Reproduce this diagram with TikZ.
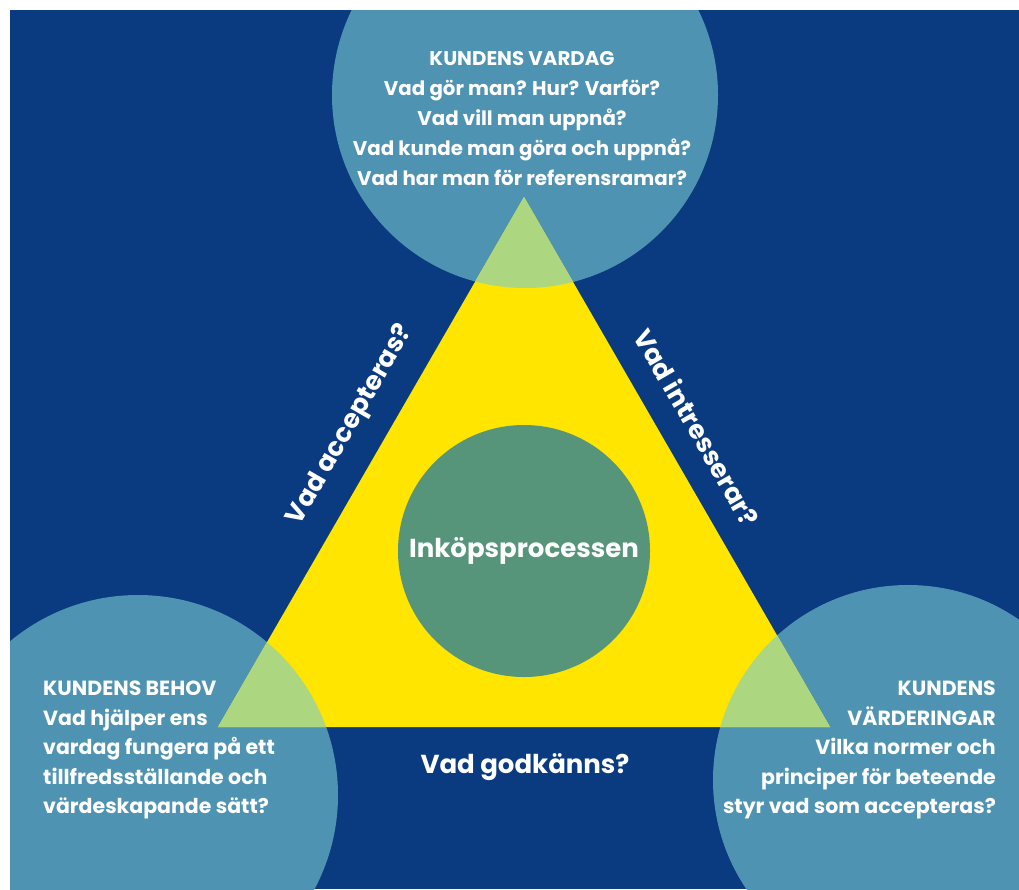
\documentclass[tikz,border=0pt]{standalone}
\usepackage{fontspec}
\setmainfont{Poppins}
\usetikzlibrary{positioning}

\definecolor{navy}{HTML}{0A3A7F}
\definecolor{ljusbla}{HTML}{4E93B2}
\definecolor{gul}{HTML}{FFE500}
\definecolor{ljusgron}{HTML}{ADD680}
\definecolor{salvia}{HTML}{56957A}

\begin{document}
\begin{tikzpicture}[
    x=1pt, y=-1pt, % en enhet = en pixel, y nedat
    every node/.style={text=white, inner sep=0pt},
    rubrik/.style={font=\bfseries\fontsize{19.8}{30}\selectfont},
    hornrubrik/.style={font=\bfseries\fontsize{20.5}{29.5}\selectfont},
    fraga/.style={font=\bfseries\fontsize{26}{30}\selectfont}
  ]
  \useasboundingbox (0,0) rectangle (1019,889);
  % bakgrund
  \fill[navy] (10,10) rectangle (1019,889);
  % hornen i triangeln
  \coordinate (topp) at (524,197);
  \coordinate (vanster) at (218,727);
  \coordinate (hoger) at (830,727);
  \begin{scope}
    \clip (10,10) rectangle (1019,889);
    % de tre cirklarna
    \fill[ljusbla] (525,95) circle (193);
    \fill[ljusbla] (138,795) circle (200);
    \fill[ljusbla] (908,780) circle (195);
    % triangeln
    \fill[gul] (topp) -- (vanster) -- (hoger) -- cycle;
    % overlapp mellan triangel och cirklar
    \clip (topp) -- (vanster) -- (hoger) -- cycle;
    \fill[ljusgron] (525,95) circle (193);
    \fill[ljusgron] (138,795) circle (200);
    \fill[ljusgron] (908,780) circle (195);
  \end{scope}
  % mitten
  \node[circle, fill=salvia, minimum size=252pt, fraga] (process) at (524,551) {Inköpsprocessen};
  % texter i cirklarna
  \node[rubrik, align=center] (vardag) at (522,119)
    {KUNDENS VARDAG\\ Vad gör man? Hur? Varför?\\ Vad vill man uppnå?\\
     Vad kunde man göra och uppnå?\\ Vad har man för referensramar?};
  \node[hornrubrik, align=left, anchor=west] (behov) at (43,750)
    {KUNDENS BEHOV\\ Vad hjälper ens\\ vardag fungera på ett\\
     tillfredsställande och\\ värdeskapande sätt?};
  \node[hornrubrik, align=right, anchor=east] (varderingar) at (996,750)
    {KUNDENS\\ VÄRDERINGAR\\ Vilka normer och\\
     principer för beteende\\ styr vad som accepteras?};
  % fragor langs sidorna
  \node[fraga, rotate=60] (accepteras) at (351,425) {Vad accepteras?};
  \node[fraga, rotate=-60] (intresserar) at (697,427) {Vad intresserar?};
  \node[fraga] (godkanns) at (525,767) {Vad godkänns?};
\end{tikzpicture}
\end{document}
